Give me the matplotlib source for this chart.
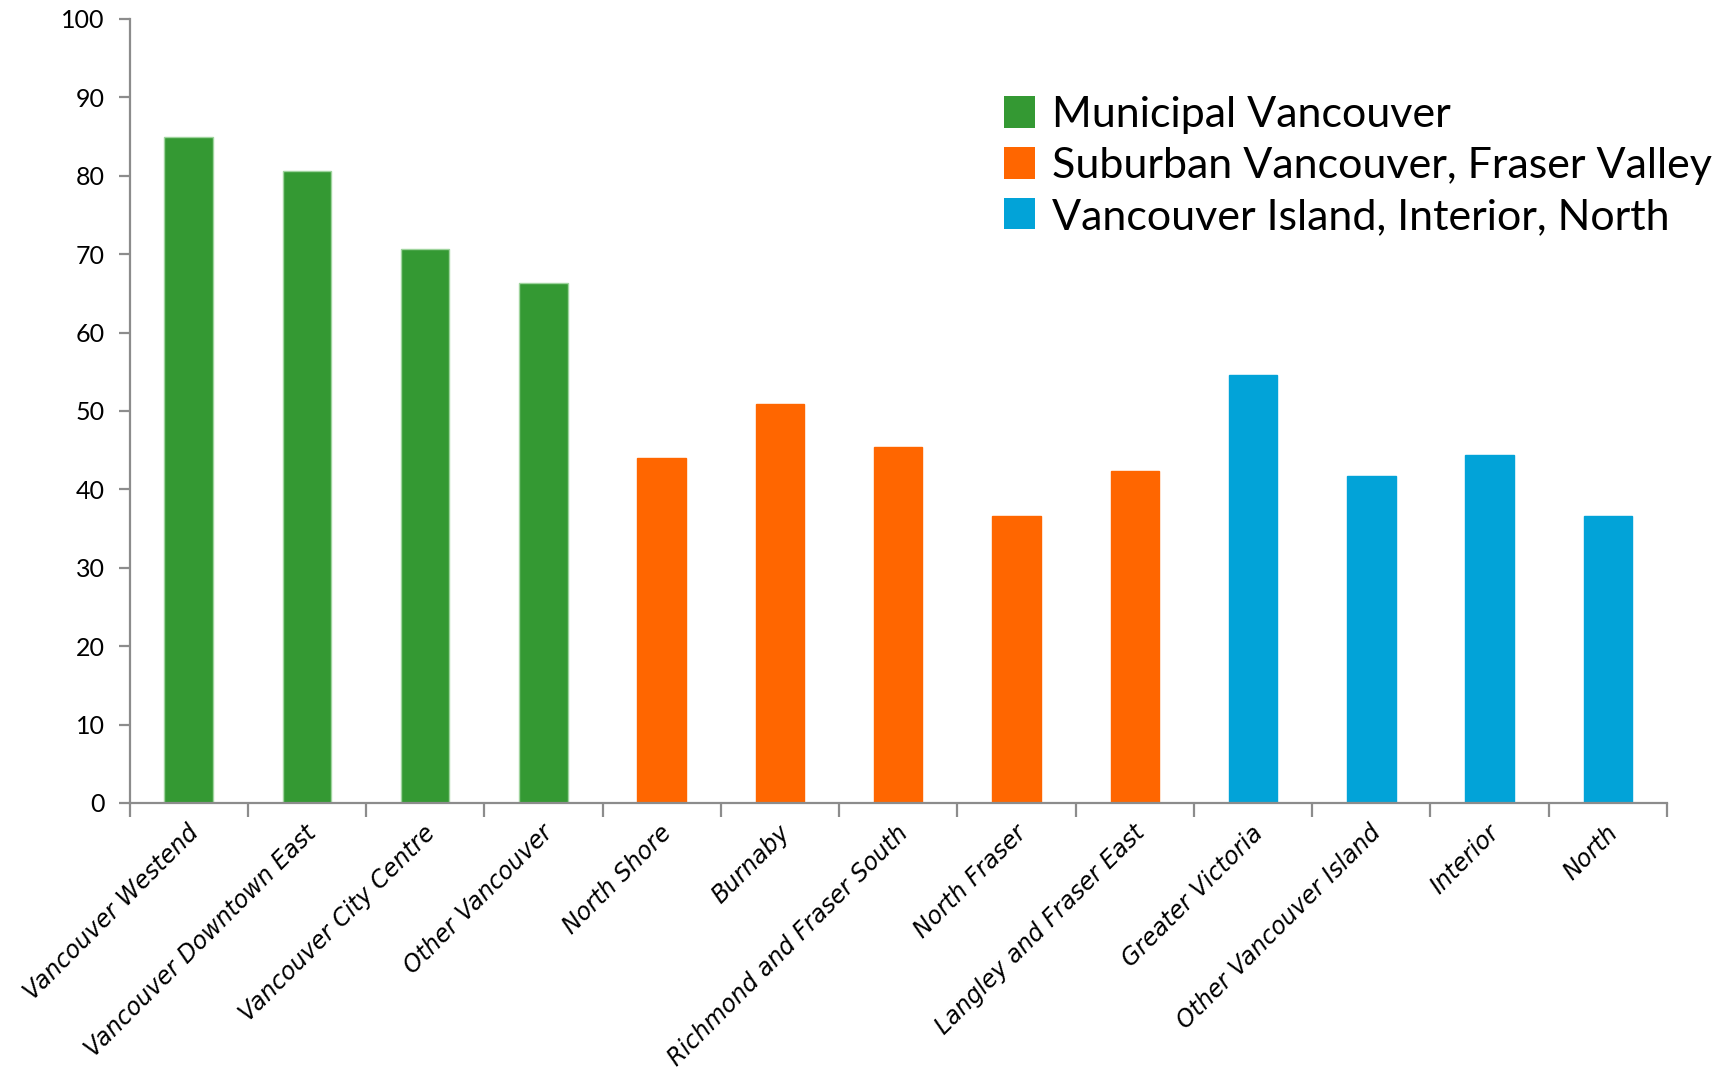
import numpy as np
import matplotlib
matplotlib.use("Agg")
from matplotlib import pyplot as plt
from matplotlib.patches import Patch
from matplotlib.transforms import ScaledTranslation

# regions and their values
regions = ['Vancouver Westend', 'Vancouver Downtown East', 'Vancouver City Centre',
           'Other Vancouver', 'North Shore', 'Burnaby', 'Richmond and Fraser South',
           'North Fraser', 'Langley and Fraser East', 'Greater Victoria',
           'Other Vancouver Island', 'Interior', 'North']
values = [85.0, 80.6, 70.7, 66.3, 44.0, 50.9, 45.4, 36.6, 42.3, 54.6, 41.7, 44.4, 36.6]
group = [0, 0, 0, 0, 1, 1, 1, 1, 1, 2, 2, 2, 2]
group_names = ['Municipal Vancouver', 'Suburban Vancouver, Fraser Valley',
               'Vancouver Island, Interior, North']
yticks = [0, 10, 20, 30, 40, 50, 60, 70, 80, 90, 100]

group_colors = ['#349933', '#ff6600', '#02a3d8']
group_edges = ['#9fd49e', '#ff6600', '#02a3d8']
axis_grey = '#8c8c8c'

fig = plt.figure(figsize=(17.35, 10.74), dpi=100)
ax = fig.add_axes([129.5 / 1735, 1 - 803 / 1074, (1667 - 129.5) / 1735, (803 - 19) / 1074])

x = np.arange(len(regions))
colors = [group_colors[g] for g in group]
edges = [group_edges[g] for g in group]
ax.bar(x, values, width=0.41, color=colors, edgecolor=edges, linewidth=1.0, zorder=2)

ax.set_xlim(-0.5, len(regions) - 0.5)
ax.set_ylim(0, 100)

for side in ['top', 'right']:
    ax.spines[side].set_visible(False)
for side in ['left', 'bottom']:
    ax.spines[side].set_color(axis_grey)
    ax.spines[side].set_linewidth(1.6)

ax.set_yticks(yticks)
ax.set_yticklabels([str(v) for v in yticks], fontsize=18, family='Lato')
ax.tick_params(axis='y', direction='out', length=8, width=1.6, color=axis_grey, pad=10)

# labels centred on the bars, tick marks on the category boundaries
ax.set_xticks(x)
ax.set_xticks(np.arange(-0.5, len(regions)), minor=True)
ax.tick_params(axis='x', which='major', length=0, pad=19)
ax.tick_params(axis='x', which='minor', direction='out', length=10, width=1.6, color=axis_grey)
ax.set_xticklabels(regions, rotation=45, ha='right', va='center', rotation_mode='anchor',
                   fontsize=17, family='DejaVu Sans', style='oblique')
shift = ScaledTranslation(6 / 100, 0, fig.dpi_scale_trans)
for lbl in ax.get_xticklabels():
    lbl.set_transform(lbl.get_transform() + shift)

handles = [Patch(facecolor=c, edgecolor='none') for c in group_colors]
ax.legend(handles, group_names, loc='upper left', bbox_to_anchor=(1004 / 1735, 1 - 96 / 1074),
          bbox_transform=fig.transFigure, frameon=False,
          prop={'family': 'Lato', 'size': 31},
          handlelength=0.72, handleheight=0.74, handletextpad=0.4, labelspacing=0.3,
          borderpad=0, borderaxespad=0)

fig.savefig('out.png', dpi=100)
